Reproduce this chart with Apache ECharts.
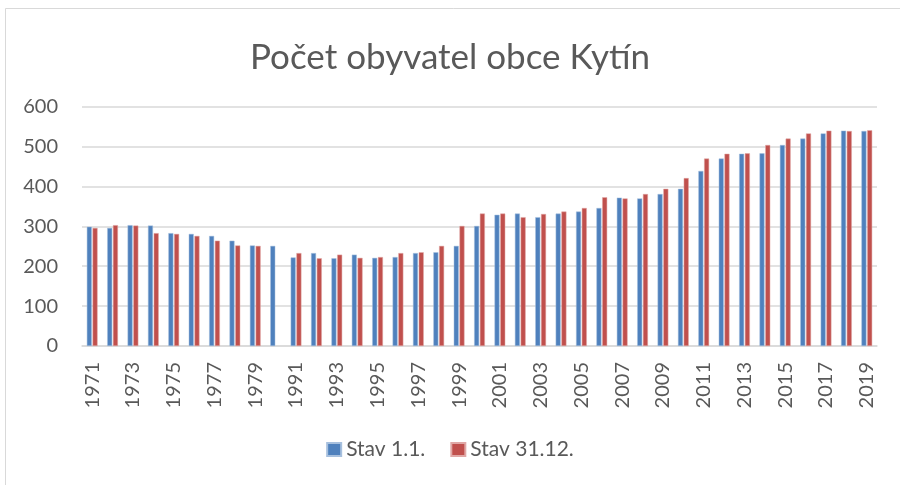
<!DOCTYPE html>
<html>
<head>
<meta charset="utf-8">
<script src="https://cdn.jsdelivr.net/npm/echarts@6/dist/echarts.min.js"></script>
<style>html,body{margin:0;padding:0;background:#fff;}#c{width:900px;height:485px;}</style>
</head>
<body>
<div id="c"></div>
<script>
const years = ['1971','1972','1973','1974','1975','1976','1977','1978','1979','1980',
  '1991','1992','1993','1994','1995','1996','1997','1998','1999','2000',
  '2001','2002','2003','2004','2005','2006','2007','2008','2009','2010',
  '2011','2012','2013','2014','2015','2016','2017','2018','2019'];
const stavStart = [299,296,303,302,283,281,276,264,252,251,
  222,233,220,229,221,223,233,235,251,301,
  329,332,323,332,337,346,372,370,381,394,
  439,470,482,483,504,520,533,540,539];
const stavEnd = [296,303,302,283,281,276,264,252,251,null,
  233,220,229,221,223,233,235,251,301,332,
  332,323,331,337,346,373,370,381,394,421,
  470,482,483,504,520,533,540,539,541];
const yTicks = [0,100,200,300,400,500,600];

const chart = echarts.init(document.getElementById('c'));
const txt = '#595959';
const font = 'Lato';
chart.setOption({
  animation: false,
  backgroundColor: '#fff',
  graphic: [{type:'rect', shape:{x:5.5,y:8.5,width:900,height:490}, style:{fill:'none', stroke:'#d9d9d9', lineWidth:1}}],
  title: {text:'Počet obyvatel obce Kytín', left:'center', top:35,
    textStyle:{fontFamily:font, fontSize:35, fontWeight:'normal', color:txt}},
  legend: {bottom: 20, left:'center', itemWidth:14, itemHeight:13, itemGap:25, icon:'rect',
    textStyle:{fontFamily:font, fontSize:21, color:txt}},
  grid: {left:82, right:23, top:106.7, bottom:139},
  xAxis: {type:'category', data: years,
    axisLine:{lineStyle:{color:'#d9d9d9', width:1.5}}, axisTick:{show:false},
    axisLabel:{interval:1, rotate:90, margin:16, fontFamily:font, fontSize:20, color:txt}},
  yAxis: {type:'value', min:yTicks[0], max:yTicks[yTicks.length-1], interval:100,
    axisLine:{show:false}, axisTick:{show:false},
    splitLine:{lineStyle:{color:'#d9d9d9', width:1.5}},
    axisLabel:{margin:24, fontFamily:font, fontSize:20, color:txt}},
  series: [
    {name:'Stav 1.1.', type:'bar', data: stavStart, barWidth:5, barGap:'15%',
      itemStyle:{color:'#4F81BD', borderColor:'#a7c0de', borderWidth:0.5}},
    {name:'Stav 31.12.', type:'bar', data: stavEnd, barWidth:5,
      itemStyle:{color:'#C0504D', borderColor:'#e0a8a6', borderWidth:0.5}}
  ]
});
</script>
</body>
</html>
